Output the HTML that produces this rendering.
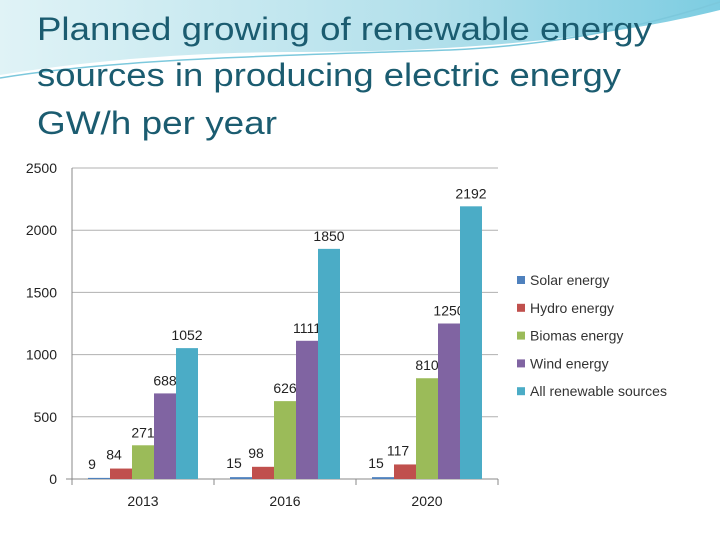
<!DOCTYPE html>
<html><head><meta charset="utf-8"><style>
body{margin:0;width:720px;height:540px;overflow:hidden;background:#fff;font-family:"Liberation Sans",sans-serif}
</style></head><body>
<svg id="c" width="720" height="540" xmlns="http://www.w3.org/2000/svg">
<defs><linearGradient id="g" x1="0" x2="1" y1="0" y2="0"><stop offset="0" stop-color="#d8f0f4"/><stop offset="0.6" stop-color="#9fd8e6"/><stop offset="1" stop-color="#5cc0da"/></linearGradient></defs>
<path d="M0,0 H720 V10 C600,40 450,52 300,52 C180,52 80,62 0,75 Z" fill="url(#g)" opacity="0.8"/>
<path d="M0,78 C120,58 300,55 450,50 C560,45 650,25 720,2" fill="none" stroke="#7cc8dc" stroke-width="1.5"/>
<g fill="#1b5c70" font-size="32">
<text x="37" y="40" textLength="615" lengthAdjust="spacingAndGlyphs">Planned growing of renewable energy</text>
<text x="37" y="86" textLength="584" lengthAdjust="spacingAndGlyphs">sources in producing electric energy</text>
<text x="37" y="134" textLength="240" lengthAdjust="spacingAndGlyphs">GW/h per year</text>
</g>
<g id="plot"></g>
</svg>
<script>
const categories=["2013","2016","2020"];
const seriesNames=["Solar energy","Hydro energy","Biomas energy","Wind energy","All renewable sources"];
const solar=[9,15,15];
const hydro=[84,98,117];
const biomas=[271,626,810];
const wind=[688,1111,1250];
const allRen=[1052,1850,2192];
const yTicks=[0,500,1000,1500,2000,2500];
const colors=["#4f81bd","#c0504d","#9bbb59","#8064a2","#4bacc6"];
const series=[solar,hydro,biomas,wind,allRen];
const NS="http://www.w3.org/2000/svg";
const g=document.getElementById('plot');
const X0=72,X1=498,Y0=479,Y1=168,YMAX=2500;
const y=v=>Y0-(v/YMAX)*(Y0-Y1);
const cw=(X1-X0)/categories.length;
const bw=22;
function mk(t,a){const e=document.createElementNS(NS,t);for(const k in a)e.setAttribute(k,a[k]);g.appendChild(e);return e;}
yTicks.forEach(t=>{
 if(t>0){const l=mk('line',{x1:X0,x2:X1,y1:y(t),y2:y(t),stroke:'#b0b0b0'});
 
 }
 const tx=mk('text',{x:57,y:y(t)+5,'text-anchor':'end','font-size':14,fill:'#222'});tx.textContent=t;
 
 
});
const ax=mk('line',{x1:X0,x2:X0,y1:Y1,y2:Y0+6,stroke:'#888'});


const xa=mk('line',{x1:X0-6,x2:X1,y1:Y0,y2:Y0,stroke:'#888'});


categories.forEach((c,i)=>{
 const cx=X0+cw*(i+0.5);
 const tk=mk('line',{x1:X0+cw*(i+1),x2:X0+cw*(i+1),y1:Y0,y2:Y0+6,stroke:'#888'});
 
 
 const tl=mk('text',{x:cx,y:Y0+27,'text-anchor':'middle','font-size':14,fill:'#222'});tl.textContent=c;
 
 
 series.forEach((s,j)=>{
  const bx=cx-bw*2.5+j*bw;
  const r=mk('rect',{x:bx,y:y(s[i]),width:bw,height:Y0-y(s[i]),fill:colors[j]});
  
  
  const lb=mk('text',{x:bx+bw/2-(j<2?7:0),y:y(s[i])-(j<2?9:8),'text-anchor':'middle','font-size':14,fill:'#222'});lb.textContent=s[i];
  
  
 });
});
seriesNames.forEach((n,j)=>{
 const ly=280+j*27.8;
 const sq=mk('rect',{x:517,y:ly-4,width:8,height:8,fill:colors[j]});
 
 
 const t=mk('text',{x:530,y:ly+5,'font-size':14,fill:'#333'});t.textContent=n;
 
 
});
</script>
</body></html>
